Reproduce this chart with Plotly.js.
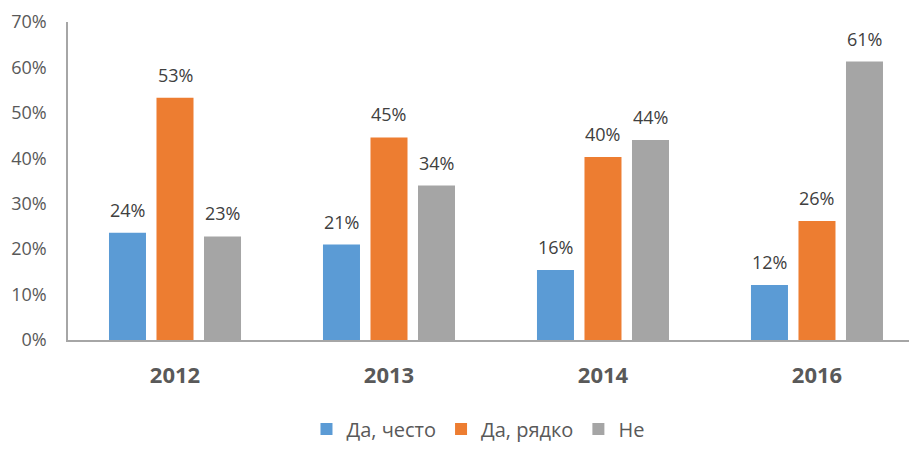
<!DOCTYPE html>
<html>
<head>
<meta charset="utf-8">
<script src="https://cdn.plot.ly/plotly-3.0.1.min.js"></script>
<style>html,body{margin:0;padding:0;background:#fff;}#chart{width:910px;height:449px;}</style>
</head>
<body>
<div id="chart"></div>
<script>
const years = ['2012', '2013', '2014', '2016'];
const seriesNames = ['Да, често', 'Да, рядко', 'Не'];
const often = [23.6, 21.0, 15.4, 12.1];
const rarely = [53.3, 44.6, 40.3, 26.2];
const no = [22.8, 34.0, 44.0, 61.3];
const oftenLabels = ['24%', '21%', '16%', '12%'];
const rarelyLabels = ['53%', '45%', '40%', '26%'];
const noLabels = ['23%', '34%', '44%', '61%'];
const colors = ['#5B9BD5', '#ED7D31', '#A5A5A5'];

const FONT = 'Open Sans, Noto Sans, sans-serif';
const allValues = [often, rarely, no];
const allLabels = [oftenLabels, rarelyLabels, noLabels];

const traces = allValues.map((vals, i) => ({
  type: 'bar',
  name: seriesNames[i],
  x: years,
  y: vals,
  marker: {color: colors[i]},
  hoverinfo: 'skip'
}));

const slotPx = 47.5;
const annotations = [];
allValues.forEach((vals, i) => {
  vals.forEach((v, j) => {
    annotations.push({
      x: j, y: v, xref: 'x', yref: 'y',
      text: allLabels[i][j], showarrow: false,
      xshift: (i - 1) * slotPx, yshift: 9, yanchor: 'bottom', xanchor: 'center',
      font: {family: FONT, size: 18, color: '#404040'}
    });
  });
});

const layout = {
  width: 910, height: 449,
  margin: {l: 68, r: 1, t: 22, b: 105},
  paper_bgcolor: '#ffffff', plot_bgcolor: '#ffffff',
  barmode: 'group', bargap: 0.334, bargroupgap: 0.221,
  showlegend: true,
  legend: {
    orientation: 'h', x: 0.4875, xanchor: 'center', y: -0.28, yanchor: 'middle',
    font: {family: FONT, size: 20, color: '#595959'}, traceorder: 'normal'
  },
  xaxis: {
    type: 'category', range: [-0.5, 3.43], fixedrange: true,
    showline: true, linecolor: '#A6A6A6', linewidth: 1.5,
    showgrid: false, ticks: '', zeroline: false,
    tickfont: {family: FONT, size: 22, color: '#595959', weight: 'bold'},
    ticklabelstandoff: 15
  },
  yaxis: {
    range: [0, 70], dtick: 10, ticksuffix: '%', fixedrange: true,
    showline: true, linecolor: '#A6A6A6', linewidth: 1.5,
    showgrid: false, zeroline: false, ticks: '',
    tickfont: {family: FONT, size: 18, color: '#595959'},
    ticklabelstandoff: 16
  },
  annotations: annotations
};

Plotly.newPlot('chart', traces, layout, {displayModeBar: false});
</script>
</body>
</html>
